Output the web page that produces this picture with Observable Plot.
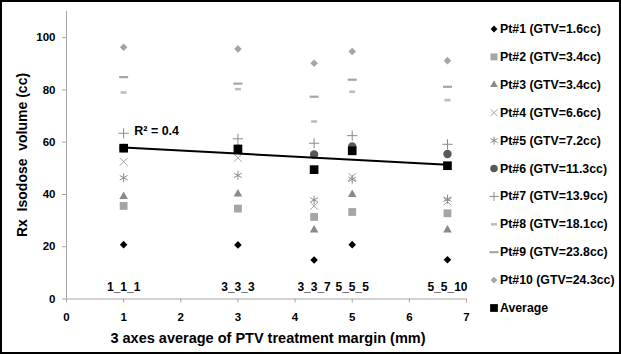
<!DOCTYPE html>
<html><head><meta charset="utf-8">
<script src="https://cdn.jsdelivr.net/npm/d3@7"></script>
<script src="https://cdn.jsdelivr.net/npm/@observablehq/plot@0.6"></script>
<style>
html,body{margin:0;padding:0;background:#fff;}
#chart{position:relative;width:621px;height:354px;}
</style></head><body><div id="chart"></div>
<script>
// ---- data ----
const margins = [1, 3, 4.333, 5, 6.667];
const marginLabels = ["1_1_1", "3_3_3", "3_3_7", "5_5_5", "5_5_10"];
const seriesNames = ["Pt#1 (GTV=1.6cc)", "Pt#2 (GTV=3.4cc)", "Pt#3 (GTV=3.4cc)", "Pt#4 (GTV=6.6cc)",
  "Pt#5 (GTV=7.2cc)", "Pt#6 (GTV=11.3cc)", "Pt#7 (GTV=13.9cc)", "Pt#8 (GTV=18.1cc)",
  "Pt#9 (GTV=23.8cc)", "Pt#10 (GTV=24.3cc)", "Average"];
const pt1 = [20.8, 20.7, 14.9, 20.8, 15.0];
const pt2 = [35.6, 34.6, 31.4, 33.3, 32.8];
const pt3 = [39.2, 40.2, 26.4, 40.0, 26.4];
const pt4 = [52.5, 54.0, 35.6, 46.7, 37.3];
const pt5 = [46.4, 47.3, 37.9, 45.8, 38.2];
const pt6 = [57.8, 57.5, 55.3, 58.4, 55.5];
const pt7 = [63.4, 61.3, 59.6, 62.5, 59.2];
const pt8 = [79.0, 80.3, 67.9, 79.3, 76.1];
const pt9 = [84.9, 82.4, 77.4, 83.9, 81.2];
const pt10 = [96.3, 95.7, 90.2, 94.7, 91.2];
const average = [57.7, 57.4, 49.5, 56.7, 51.0];
const yTicks = [0, 20, 40, 60, 80, 100];
const xTicks = [0, 1, 2, 3, 4, 5, 6, 7];
const xTitle = "3 axes average of PTV treatment margin (mm)";
const yTitle = "Rx  Isodose  volume (cc)";

// ---- styles ----
const dashShort = {draw(ctx) { ctx.rect(-3, -1.3, 6, 2.6); }};
const dashLong = {draw(ctx) { ctx.rect(-4.5, -1.1, 9, 2.2); }};
const styles = [
  {symbol: "diamond2", fill: "#000000", r: 3.4},
  {symbol: "square", fill: "#a5a5a5", r: 4.4},
  {symbol: "triangle", fill: "#8a8a8a", r: 3.2},
  {symbol: "times", stroke: "#a5a5a5", r: 3.6},
  {symbol: "asterisk", stroke: "#8a8a8a", r: 4.2},
  {symbol: "circle", fill: "#595959", r: 4.2},
  {symbol: "plus", stroke: "#8a8a8a", r: 3.4},
  {symbol: dashShort, fill: "#bdbdbd", r: 3},
  {symbol: dashLong, fill: "#a5a5a5", r: 3},
  {symbol: "diamond2", fill: "#a5a5a5", r: 3.4},
  {symbol: "square", fill: "#000000", r: 4.9}
];
const allSeries = [pt1, pt2, pt3, pt4, pt5, pt6, pt7, pt8, pt9, pt10, average];
const font = "'Liberation Sans', Arial, sans-serif";

const rows = allSeries.map((vals, s) => margins.map((x, i) => ({x, y: vals[i], s})));
const avgRows = rows[10];

// regression for R²
const mx = d3.mean(margins), my = d3.mean(average);
const sxy = d3.sum(margins, (x, i) => (x - mx) * (average[i] - my));
const sxx = d3.sum(margins, x => (x - mx) ** 2);
const syy = d3.sum(average, y => (y - my) ** 2);
const r2 = sxy * sxy / (sxx * syy);
const slope = sxy / sxx;
const yAt1 = my + slope * (margins[0] - mx);

const marks = [
  Plot.ruleY([0], {stroke: "#a5a5a5"}),
  Plot.ruleX([0], {stroke: "#a5a5a5"}),
  Plot.axisY({ticks: yTicks, tickSize: 4, tickPadding: 7, label: null, stroke: "#a5a5a5", fill: "#000", fontWeight: "bold"}),
  Plot.axisX({ticks: xTicks, tickSize: 4, tickPadding: 10, label: null, stroke: "#a5a5a5", fill: "#000", fontWeight: "bold", tickFormat: d3.format("d")}),
  Plot.text(margins, {x: d => d, y: 0, text: (d, i) => marginLabels[i], dy: -12, fontWeight: "bold", fontSize: 12, fill: "#000"})
];
rows.forEach((data, s) => {
  const st = styles[s];
  const opts = {x: "x", y: "y", symbol: st.symbol, r: st.r};
  if (st.fill) { opts.fill = st.fill; opts.stroke = "none"; } else { opts.stroke = st.stroke; opts.strokeWidth = 1; opts.fill = "none"; }
  if (s === 10) marks.push(Plot.linearRegressionY(avgRows, {x: "x", y: "y", ci: 0, stroke: "#000", strokeWidth: 2}));
  marks.push(Plot.dot(data, opts));
});
marks.push(Plot.text([`R² = ${r2.toFixed(1)}`], {x: margins[0], y: yAt1, text: d => d, dx: 33, dy: -16, fontWeight: "bold", fontSize: 12.5, fill: "#000"}));

const chart = Plot.plot({
  width: 621, height: 354,
  marginLeft: 66, marginRight: 155, marginTop: 11, marginBottom: 55.5,
  x: {domain: [0, 7]},
  y: {domain: [0, 110]},
  style: {fontFamily: font, fontSize: "11.5px", background: "#fff", color: "#000"},
  marks
});
document.getElementById("chart").appendChild(chart);

const svg = d3.select(chart);
// axis titles
svg.append("text").attr("x", 268).attr("y", 338).attr("text-anchor", "middle").attr("dominant-baseline", "central")
  .style("font", `bold 14.5px ${font}`).style("white-space", "pre").text(xTitle);
svg.append("text").attr("transform", "translate(22,155) rotate(-90)").attr("text-anchor", "middle").attr("dominant-baseline", "central")
  .style("font", `bold 14px ${font}`).style("white-space", "pre").text(yTitle);

// legend
const d3types = {diamond2: d3.symbolDiamond2, square: d3.symbolSquare, triangle: d3.symbolTriangle, times: d3.symbolTimes,
  asterisk: d3.symbolAsterisk, circle: d3.symbolCircle, plus: d3.symbolPlus};
const lg = svg.append("g").attr("text-anchor", "start");
seriesNames.forEach((name, i) => {
  const st = styles[i];
  const y = 29 + i * 27.9;
  const type = typeof st.symbol === "string" ? d3types[st.symbol] : st.symbol;
  const p = lg.append("path").attr("transform", `translate(494,${y})`)
    .attr("d", d3.symbol(type, Math.PI * st.r * st.r * 0.8)());
  if (st.fill) p.attr("fill", st.fill); else p.attr("fill", "none").attr("stroke", st.stroke);
  lg.append("text").attr("x", 500).attr("y", y).attr("dominant-baseline", "central").attr("text-anchor", "start")
    .style("font", `bold 12.3px ${font}`).attr("fill", "#000").text(name);
});
// outer frame
svg.append("rect").attr("x", 1).attr("y", 1).attr("width", 619).attr("height", 352)
  .attr("fill", "none").attr("stroke", "#000").attr("stroke-width", 2);
</script></body></html>
